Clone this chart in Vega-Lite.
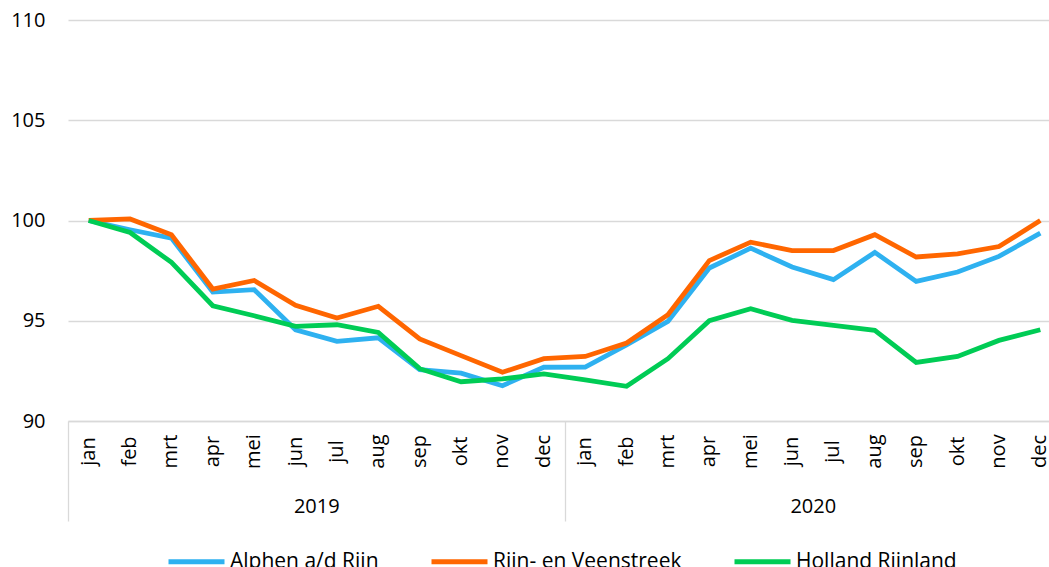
{
  "$schema": "https://vega.github.io/schema/vega-lite/v6.json",
  "width": 981,
  "height": 401,
  "autosize": {"type": "none"},
  "padding": {"left": 68, "top": 20, "right": 0, "bottom": 146},
  "config": {"font": "Open Sans", "view": {"stroke": null}},
  "layer": [
    {
      "data": {"values": [
        {"period": "2019-jan", "series": "Alphen a/d Rijn", "value": 100},
        {"period": "2019-feb", "series": "Alphen a/d Rijn", "value": 99.54},
        {"period": "2019-mrt", "series": "Alphen a/d Rijn", "value": 99.12},
        {"period": "2019-apr", "series": "Alphen a/d Rijn", "value": 96.43},
        {"period": "2019-mei", "series": "Alphen a/d Rijn", "value": 96.55},
        {"period": "2019-jun", "series": "Alphen a/d Rijn", "value": 94.55},
        {"period": "2019-jul", "series": "Alphen a/d Rijn", "value": 93.97},
        {"period": "2019-aug", "series": "Alphen a/d Rijn", "value": 94.15},
        {"period": "2019-sep", "series": "Alphen a/d Rijn", "value": 92.56},
        {"period": "2019-okt", "series": "Alphen a/d Rijn", "value": 92.39},
        {"period": "2019-nov", "series": "Alphen a/d Rijn", "value": 91.76},
        {"period": "2019-dec", "series": "Alphen a/d Rijn", "value": 92.68},
        {"period": "2020-jan", "series": "Alphen a/d Rijn", "value": 92.69},
        {"period": "2020-feb", "series": "Alphen a/d Rijn", "value": 93.8},
        {"period": "2020-mrt", "series": "Alphen a/d Rijn", "value": 94.97},
        {"period": "2020-apr", "series": "Alphen a/d Rijn", "value": 97.63},
        {"period": "2020-mei", "series": "Alphen a/d Rijn", "value": 98.62},
        {"period": "2020-jun", "series": "Alphen a/d Rijn", "value": 97.68},
        {"period": "2020-jul", "series": "Alphen a/d Rijn", "value": 97.05},
        {"period": "2020-aug", "series": "Alphen a/d Rijn", "value": 98.41},
        {"period": "2020-sep", "series": "Alphen a/d Rijn", "value": 96.96},
        {"period": "2020-okt", "series": "Alphen a/d Rijn", "value": 97.43},
        {"period": "2020-nov", "series": "Alphen a/d Rijn", "value": 98.21},
        {"period": "2020-dec", "series": "Alphen a/d Rijn", "value": 99.37},
        {"period": "2019-jan", "series": "Rijn- en Veenstreek", "value": 100},
        {"period": "2019-feb", "series": "Rijn- en Veenstreek", "value": 100.08},
        {"period": "2019-mrt", "series": "Rijn- en Veenstreek", "value": 99.29},
        {"period": "2019-apr", "series": "Rijn- en Veenstreek", "value": 96.58},
        {"period": "2019-mei", "series": "Rijn- en Veenstreek", "value": 97.01},
        {"period": "2019-jun", "series": "Rijn- en Veenstreek", "value": 95.77},
        {"period": "2019-jul", "series": "Rijn- en Veenstreek", "value": 95.14},
        {"period": "2019-aug", "series": "Rijn- en Veenstreek", "value": 95.72},
        {"period": "2019-sep", "series": "Rijn- en Veenstreek", "value": 94.09},
        {"period": "2019-okt", "series": "Rijn- en Veenstreek", "value": 93.26},
        {"period": "2019-nov", "series": "Rijn- en Veenstreek", "value": 92.43},
        {"period": "2019-dec", "series": "Rijn- en Veenstreek", "value": 93.11},
        {"period": "2020-jan", "series": "Rijn- en Veenstreek", "value": 93.22},
        {"period": "2020-feb", "series": "Rijn- en Veenstreek", "value": 93.89},
        {"period": "2020-mrt", "series": "Rijn- en Veenstreek", "value": 95.3},
        {"period": "2020-apr", "series": "Rijn- en Veenstreek", "value": 98.0},
        {"period": "2020-mei", "series": "Rijn- en Veenstreek", "value": 98.92},
        {"period": "2020-jun", "series": "Rijn- en Veenstreek", "value": 98.5},
        {"period": "2020-jul", "series": "Rijn- en Veenstreek", "value": 98.5},
        {"period": "2020-aug", "series": "Rijn- en Veenstreek", "value": 99.29},
        {"period": "2020-sep", "series": "Rijn- en Veenstreek", "value": 98.18},
        {"period": "2020-okt", "series": "Rijn- en Veenstreek", "value": 98.34},
        {"period": "2020-nov", "series": "Rijn- en Veenstreek", "value": 98.7},
        {"period": "2020-dec", "series": "Rijn- en Veenstreek", "value": 100.0},
        {"period": "2019-jan", "series": "Holland Rijnland", "value": 100},
        {"period": "2019-feb", "series": "Holland Rijnland", "value": 99.4},
        {"period": "2019-mrt", "series": "Holland Rijnland", "value": 97.91},
        {"period": "2019-apr", "series": "Holland Rijnland", "value": 95.75},
        {"period": "2019-mei", "series": "Holland Rijnland", "value": 95.25},
        {"period": "2019-jun", "series": "Holland Rijnland", "value": 94.72},
        {"period": "2019-jul", "series": "Holland Rijnland", "value": 94.8},
        {"period": "2019-aug", "series": "Holland Rijnland", "value": 94.42},
        {"period": "2019-sep", "series": "Holland Rijnland", "value": 92.61},
        {"period": "2019-okt", "series": "Holland Rijnland", "value": 91.96},
        {"period": "2019-nov", "series": "Holland Rijnland", "value": 92.1},
        {"period": "2019-dec", "series": "Holland Rijnland", "value": 92.35},
        {"period": "2020-jan", "series": "Holland Rijnland", "value": 92.05},
        {"period": "2020-feb", "series": "Holland Rijnland", "value": 91.73},
        {"period": "2020-mrt", "series": "Holland Rijnland", "value": 93.11},
        {"period": "2020-apr", "series": "Holland Rijnland", "value": 95.0},
        {"period": "2020-mei", "series": "Holland Rijnland", "value": 95.6},
        {"period": "2020-jun", "series": "Holland Rijnland", "value": 95.02},
        {"period": "2020-jul", "series": "Holland Rijnland", "value": 94.77},
        {"period": "2020-aug", "series": "Holland Rijnland", "value": 94.52},
        {"period": "2020-sep", "series": "Holland Rijnland", "value": 92.92},
        {"period": "2020-okt", "series": "Holland Rijnland", "value": 93.22},
        {"period": "2020-nov", "series": "Holland Rijnland", "value": 94.02},
        {"period": "2020-dec", "series": "Holland Rijnland", "value": 94.55}
      ]},
      "mark": {"type": "line", "strokeWidth": 4.8},
      "encoding": {
        "x": {
          "field": "period", "type": "ordinal", "sort": null,
          "scale": {"type": "band", "range": [0, 993], "paddingInner": 0, "paddingOuter": 0},
          "axis": {
            "orient": "bottom",
            "title": null, "labelExpr": "split(datum.label, '-')[1]",
            "labelAngle": 270, "labelAlign": "center", "labelBaseline": "middle",
            "labelPadding": 30, "ticks": false, "tickSize": 0, "grid": false,
            "domainColor": "#d9d9d9", "domainWidth": 1.3,
            "labelFontSize": 20, "labelColor": "#000000", "labelOverlap": false
          }
        },
        "y": {
          "field": "value", "type": "quantitative",
          "scale": {"domain": [90, 110]},
          "axis": {
            "title": null, "values": [90, 95, 100, 105, 110], "grid": true,
            "gridColor": "#d9d9d9", "gridWidth": 1.3, "domain": false, "ticks": false,
            "labelPadding": 23, "labelFontSize": 20, "labelColor": "#000000"
          }
        },
        "color": {
          "field": "series", "type": "nominal",
          "scale": {"domain": ["Alphen a/d Rijn", "Rijn- en Veenstreek", "Holland Rijnland"], "range": ["#2EB1F0", "#FF6600", "#00CC55"]},
          "legend": {
            "orient": "none", "legendX": 98, "legendY": 511, "direction": "horizontal", "columns": 3,
            "title": null, "symbolType": "stroke", "symbolSize": 3136, "symbolStrokeWidth": 5,
            "labelFontSize": 21, "labelColor": "#000000", "labelOffset": 3, "columnPadding": 42, "labelLimit": 400
          }
        }
      }
    },
    {
      "data": {"values": [{"year": "2019"}, {"year": "2020"}]},
      "mark": {"type": "rule", "opacity": 0},
      "encoding": {
        "x": {
          "field": "year", "type": "ordinal",
          "scale": {"type": "band", "range": [0, 993], "paddingInner": 0, "paddingOuter": 0},
          "axis": {
            "orient": "bottom",
            "title": null, "domain": false, "grid": false, "ticks": true, "tickBand": "extent",
            "tickSize": 100, "tickColor": "#d9d9d9", "tickWidth": 1.3,
            "labelAngle": 0, "labelAlign": "center", "labelBaseline": "middle", "labelPadding": -15,
            "labelFontSize": 20, "labelColor": "#000000"
          }
        }
      }
    }
  ],
  "resolve": {"scale": {"x": "independent"}}
}
